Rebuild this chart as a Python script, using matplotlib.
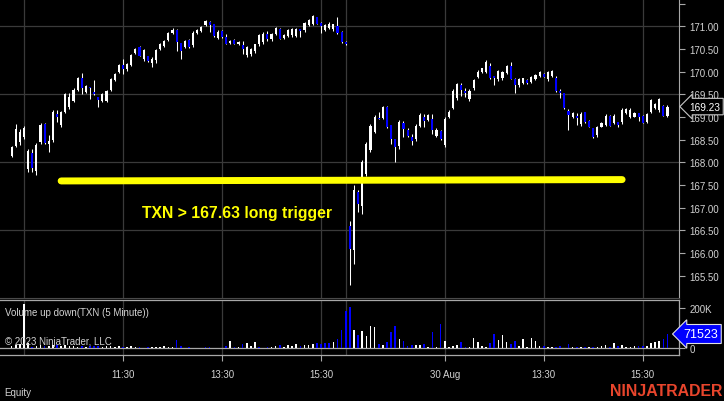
import matplotlib
matplotlib.use("Agg")
import matplotlib.pyplot as plt
import numpy as np
import pandas as pd
from matplotlib.transforms import blended_transform_factory

plt.rcParams['font.family'] = ['Liberation Sans', 'DejaVu Sans']

# ---------------- data (5 minute bars, TXN) ----------------
opens = [
    168.14, 168.36, 168.45, 168.55, 167.85, 168.20, 167.80, 168.45, 168.84, 168.40,
    168.50, 169.06, 168.82, 169.12, 169.22, 169.36, 169.60, 169.87, 169.55, 169.66,
    169.56, 169.44, 169.36, 169.35, 169.60, 169.82, 170.00, 170.15, 170.05, 170.15,
    170.41, 170.55, 170.28, 170.34, 170.20, 170.25, 170.50, 170.57, 170.70, 170.86,
    170.92, 170.63, 170.55, 170.70, 170.58, 170.85, 170.90, 171.03, 171.10, 171.05,
    170.75, 170.90, 170.77, 170.63, 170.70, 170.61, 170.59, 170.36, 170.40, 170.45,
    170.60, 170.65, 170.84, 170.71, 170.82, 170.94, 170.75, 170.79, 170.80, 170.79,
    170.94, 170.91, 171.02, 171.06, 171.20, 171.07, 170.92, 170.97, 170.93, 171.01,
    170.88, 170.66, 166.59, 166.07, 167.35, 167.04, 167.75, 168.28, 168.68, 168.98,
    168.98, 169.23, 168.82, 168.51, 168.35, 168.86, 168.71, 168.57, 168.52, 168.80,
    169.01, 168.94, 168.95, 168.58, 168.70, 168.38, 168.99, 169.20, 169.42, 169.70,
    169.58, 169.39, 169.63, 169.88, 169.99, 170.00, 170.13, 169.90, 169.83, 169.85,
    169.97, 170.13, 169.84, 169.70, 169.75, 169.82, 169.78, 169.84, 169.91, 169.95,
    169.83, 169.91, 169.87, 169.58, 169.52, 169.14, 168.99, 169.03, 168.84, 169.10,
    168.92, 168.75, 168.60, 168.79, 168.83, 169.03, 168.87, 168.89, 168.88, 169.08,
    169.00, 169.01, 169.08, 169.03, 168.89, 169.12, 169.20, 169.15, 169.25, 169.03,
]
highs = [
    168.36, 168.84, 168.73, 168.81, 168.29, 168.29, 168.42, 168.87, 168.86, 168.60,
    169.15, 169.15, 169.13, 169.54, 169.52, 169.63, 169.89, 169.97, 169.70, 169.67,
    169.81, 169.45, 169.53, 169.59, 169.87, 169.97, 170.17, 170.28, 170.20, 170.40,
    170.52, 170.56, 170.50, 170.35, 170.32, 170.51, 170.63, 170.70, 170.88, 170.97,
    170.95, 170.64, 170.70, 170.71, 170.89, 170.94, 171.00, 171.14, 171.12, 171.06,
    170.92, 170.92, 170.84, 170.70, 170.71, 170.68, 170.68, 170.57, 170.53, 170.62,
    170.83, 170.87, 170.90, 170.85, 170.98, 170.96, 170.83, 170.93, 170.96, 170.96,
    170.95, 171.09, 171.16, 171.25, 171.21, 171.10, 171.05, 171.09, 171.06, 171.20,
    170.89, 170.68, 166.70, 167.49, 167.39, 168.05, 168.44, 168.84, 169.04, 169.12,
    169.25, 169.25, 168.83, 168.52, 168.93, 168.92, 168.75, 168.62, 168.84, 169.09,
    169.06, 169.06, 169.06, 168.75, 168.71, 168.99, 169.15, 169.61, 169.76, 169.76,
    169.63, 169.61, 169.84, 170.03, 170.09, 170.25, 170.20, 169.91, 170.04, 170.02,
    170.14, 170.22, 169.85, 169.85, 169.87, 169.83, 169.91, 169.95, 170.02, 169.96,
    170.02, 170.03, 169.90, 169.61, 169.53, 169.17, 169.10, 169.08, 169.10, 169.11,
    168.93, 168.76, 168.81, 168.88, 169.06, 169.04, 169.06, 168.90, 169.19, 169.19,
    169.19, 169.10, 169.09, 169.04, 169.09, 169.40, 169.31, 169.43, 169.26, 169.27,
]
lows = [
    168.12, 168.33, 168.39, 168.51, 167.79, 167.78, 167.72, 168.40, 168.40, 168.23,
    168.45, 168.90, 168.78, 169.09, 169.17, 169.32, 169.58, 169.50, 169.52, 169.39,
    169.49, 169.23, 169.34, 169.32, 169.58, 169.80, 169.97, 169.95, 170.02, 170.13,
    170.39, 170.34, 170.24, 170.22, 170.11, 170.20, 170.48, 170.55, 170.68, 170.84,
    170.46, 170.28, 170.53, 170.53, 170.55, 170.83, 170.88, 171.01, 170.87, 170.77,
    170.72, 170.75, 170.61, 170.61, 170.61, 170.59, 170.39, 170.33, 170.35, 170.42,
    170.57, 170.61, 170.68, 170.68, 170.80, 170.72, 170.73, 170.77, 170.77, 170.77,
    170.77, 170.88, 171.00, 171.03, 171.04, 170.86, 170.90, 170.94, 170.90, 170.84,
    170.64, 170.59, 165.29, 165.76, 166.90, 166.86, 167.70, 168.23, 168.64, 168.95,
    168.95, 168.76, 168.40, 168.00, 168.29, 168.56, 168.55, 168.39, 168.48, 168.77,
    168.77, 168.92, 168.62, 168.55, 168.50, 168.33, 168.97, 169.17, 169.38, 169.47,
    169.45, 169.36, 169.60, 169.85, 169.97, 169.97, 169.84, 169.71, 169.80, 169.81,
    169.95, 169.83, 169.53, 169.67, 169.73, 169.72, 169.76, 169.82, 169.89, 169.88,
    169.80, 169.89, 169.55, 169.42, 169.18, 168.72, 168.97, 168.82, 168.81, 168.87,
    168.78, 168.53, 168.57, 168.77, 168.81, 168.80, 168.84, 168.77, 168.84, 169.06,
    168.98, 168.99, 168.92, 168.86, 168.86, 169.08, 169.17, 169.12, 169.02, 168.99,
]
closes = [
    168.34, 168.73, 168.66, 168.76, 168.25, 167.87, 168.38, 168.82, 168.42, 168.46,
    169.10, 168.99, 169.10, 169.50, 169.45, 169.60, 169.86, 169.63, 169.68, 169.63,
    169.51, 169.37, 169.50, 169.57, 169.84, 169.95, 170.14, 170.06, 170.17, 170.37,
    170.50, 170.35, 170.47, 170.23, 170.28, 170.48, 170.61, 170.68, 170.85, 170.92,
    170.66, 170.46, 170.68, 170.54, 170.86, 170.92, 170.98, 171.12, 171.03, 170.78,
    170.88, 170.77, 170.62, 170.68, 170.62, 170.66, 170.50, 170.54, 170.50, 170.60,
    170.80, 170.84, 170.73, 170.83, 170.96, 170.73, 170.81, 170.91, 170.93, 170.94,
    170.90, 171.07, 171.13, 171.22, 171.05, 171.00, 171.03, 171.06, 171.04, 170.85,
    170.65, 170.61, 166.10, 167.40, 167.08, 168.00, 168.40, 168.80, 169.00, 168.96,
    169.22, 168.77, 168.51, 168.33, 168.90, 168.73, 168.59, 168.48, 168.80, 169.05,
    168.92, 169.04, 168.72, 168.72, 168.51, 168.96, 169.12, 169.58, 169.72, 169.59,
    169.53, 169.58, 169.81, 170.00, 170.07, 170.22, 169.87, 169.86, 170.01, 169.99,
    170.12, 169.84, 169.70, 169.83, 169.85, 169.76, 169.89, 169.93, 170.00, 169.89,
    170.00, 170.01, 169.58, 169.53, 169.19, 169.04, 169.08, 168.97, 169.07, 168.88,
    168.79, 168.57, 168.78, 168.86, 169.03, 168.81, 169.03, 168.82, 169.16, 169.17,
    169.16, 169.08, 169.01, 168.87, 169.06, 169.38, 169.29, 169.40, 169.03, 169.23,
]
volume_k = [
    12, 18, 20, 222, 25, 8, 12, 15, 10, 12,
    15, 18, 12, 15, 12, 10, 8, 10, 8, 10,
    12, 10, 8, 10, 12, 8, 10, 8, 6, 12,
    5, 8, 4, 5, 8, 8, 8, 10, 6, 8,
    40, 10, 4, 7, 4, 4, 4, 5, 7, 3,
    3, 4, 10, 37, 7, 7, 20, 27, 12, 32,
    5, 4, 5, 7, 10, 17, 7, 15, 12, 20,
    10, 15, 15, 20, 25, 20, 27, 27, 30, 45,
    90, 185, 205, 93, 65, 88, 63, 113, 105, 22,
    17, 33, 83, 113, 47, 38, 10, 17, 17, 17,
    22, 5, 83, 5, 122, 38, 5, 13, 17, 30,
    5, 5, 50, 33, 10, 5, 27, 72, 43, 67,
    33, 22, 38, 10, 47, 5, 50, 38, 13, 10,
    5, 5, 5, 10, 3, 20, 5, 8, 5, 8,
    5, 8, 8, 10, 17, 8, 27, 13, 17, 8,
    8, 10, 10, 13, 13, 27, 30, 38, 47, 71.523,
]
volume_up = [
    1, 1, 1, 1, 1, 0, 1, 1, 0, 1,
    1, 0, 1, 1, 1, 1, 1, 0, 1, 0,
    0, 0, 1, 1, 1, 1, 1, 0, 1, 1,
    1, 0, 1, 0, 1, 1, 1, 1, 1, 1,
    0, 0, 1, 0, 1, 1, 1, 0, 0, 1,
    1, 0, 0, 1, 0, 1, 0, 1, 1, 1,
    0, 1, 0, 1, 1, 0, 1, 1, 1, 1,
    0, 1, 1, 1, 0, 0, 0, 0, 1, 0,
    0, 0, 0, 1, 0, 1, 1, 1, 1, 0,
    1, 0, 0, 0, 1, 0, 0, 0, 1, 1,
    0, 1, 0, 1, 0, 1, 1, 1, 1, 0,
    0, 1, 1, 1, 1, 1, 0, 0, 1, 1,
    1, 0, 0, 1, 1, 1, 1, 1, 1, 0,
    1, 1, 0, 0, 1, 0, 1, 0, 1, 0,
    1, 0, 1, 1, 1, 0, 1, 0, 1, 1,
    1, 1, 0, 0, 1, 1, 1, 1, 0, 0,
]
sessions = ['2023-08-28', '2023-08-29', '2023-08-30']
tick_times = ['2023-08-29 11:30', '2023-08-29 13:30', '2023-08-29 15:30',
              '2023-08-30 11:30', '2023-08-30 13:30', '2023-08-30 15:30']
tick_labels = ['11:30', '13:30', '15:30', '30 Aug', '13:30', '15:30']
price_ticks = [165.5, 166.0, 166.5, 167.0, 167.5, 168.0, 168.5, 169.0, 169.5, 170.0, 170.5, 171.0, 171.5]
price_grid = [166.5, 168.0, 169.5, 171.0]
volume_ticks = [0, 100000, 200000]
volume_tick_labels = ['0', '100K', '200K']
trigger_text = 'TXN > 167.63 long trigger'
trigger_start = '2023-08-29 10:15'
trigger_end = '2023-08-30 15:05'
trigger_prices = [167.59, 167.62]
last_volume = 71523

# ---------------- build ----------------
times = []
for d in sessions:
    times += list(pd.date_range(d + ' 09:35', d + ' 16:00', freq='5min'))
times = times[78 - 4:]
times = pd.DatetimeIndex(times)
n = len(times)
pos = np.arange(n)
o = np.array(opens); h = np.array(highs); l = np.array(lows); c = np.array(closes)
vol = np.array(volume_k) * 1000.0

def pos_of(t):
    return int(np.where(times == pd.Timestamp(t))[0][0])

W, H = 724, 402
BG = '#000000'
TXT = '#D2D2D2'
GRID = '#3A3A3A'
AX = '#A8A8A8'
BLUE = '#0000FF'

fig = plt.figure(figsize=(W / 100, H / 100), dpi=100, facecolor=BG)
ax = fig.add_axes([0, 1 - 299 / H, 679 / W, 299 / H], facecolor=BG)
axv = fig.add_axes([0, 1 - 356 / H, 679 / W, 55 / H], facecolor=BG)

xl = (-2.82, 161.79)
for a in (ax, axv):
    a.set_xlim(*xl)
    for s in a.spines.values():
        s.set_visible(False)

ax.set_ylim(165.009, 171.602)
axv.set_ylim(-33500, 241500)

# grid
breaks = [i for i in range(n - 1) if times[i].strftime('%H:%M') == '16:00']
tick_pos = [pos_of(t) for t in tick_times]
for xg in breaks + tick_pos:
    ax.axvline(xg, color=GRID, lw=0.9, zorder=0)
    axv.axvline(xg, color=GRID, lw=0.9, zorder=0)
for yg in price_grid:
    ax.axhline(yg, color=GRID, lw=0.9, zorder=0)

# candles
up = c >= o
body_col = np.where(up, '#FFFFFF', BLUE)
ax.vlines(pos, l, h, colors='#FFFFFF', lw=0.75, zorder=2)
body_h = np.maximum(np.abs(c - o), 0.012)
ax.bar(pos, body_h, bottom=np.minimum(o, c), width=0.5, color=body_col, linewidth=0, zorder=3)

# trigger line & text
xs = [pos_of(trigger_start), pos_of(trigger_end)]
ax.plot(xs, trigger_prices, color='#FFFF00', lw=5, solid_capstyle='round', zorder=4)
ax.text(pos_of('2023-08-29 11:50') + 0.5, 166.905, trigger_text, color='#FFFF00',
        fontsize=11.3, fontweight='bold', ha='left', va='center', zorder=5)

# price axis
ax.spines['right'].set_visible(True)
ax.spines['right'].set_color(AX)
ax.spines['bottom'].set_visible(True)
ax.spines['bottom'].set_color('#4A4A4A')
ax.yaxis.tick_right()
ax.set_yticks(price_ticks)
ax.set_yticklabels(['%.2f' % v if v < 171.4 else '' for v in price_ticks])
ax.tick_params(axis='y', colors=AX, labelcolor=TXT, length=4.5, width=0.8, pad=3, labelsize=7)
ax.set_xticks([])

# price marker
tr = blended_transform_factory(ax.transAxes, ax.transData)
ax.text(1 + 10 / 679, c[-1], '%.2f' % c[-1], transform=tr, ha='left', va='center',
        color='#FFFFFF', fontsize=7.3, zorder=10, clip_on=False,
        bbox=dict(boxstyle='larrow,pad=0.32', fc='black', ec='#C8C8C8', lw=0.8))

# volume
vcol = np.where(np.array(volume_up) == 1, '#FFFFFF', BLUE)
axv.bar(pos, vol, width=0.38, color=vcol, linewidth=0, zorder=3)
axv.axhline(0, color=AX, lw=0.9, zorder=2)
for s in ('top', 'bottom', 'right'):
    axv.spines[s].set_visible(True)
    axv.spines[s].set_color(AX)
    axv.spines[s].set_linewidth(0.9)
axv.yaxis.tick_right()
axv.set_yticks(volume_ticks)
axv.set_yticklabels(volume_tick_labels)
axv.tick_params(axis='y', colors=AX, labelcolor=TXT, length=4.5, width=0.8, pad=3, labelsize=7)
axv.set_xticks(tick_pos)
axv.set_xticklabels(tick_labels)
axv.tick_params(axis='x', colors=AX, labelcolor=TXT, length=4, width=0.8, pad=6, labelsize=7)

trv = blended_transform_factory(axv.transAxes, axv.transData)
axv.text(1 + 4 / 679, last_volume, str(last_volume), transform=trv, ha='left', va='center',
         color='#FFFFFF', fontsize=9, zorder=10, clip_on=False,
         bbox=dict(boxstyle='larrow,pad=0.28', fc=BLUE, ec='#E0E0E0', lw=0.8))

# texts
fig.text(5 / W, 1 - 312.7 / H, 'Volume up down(TXN (5 Minute))', color=TXT, fontsize=7, ha='left', va='center')
fig.text(5 / W, 1 - 342.5 / H, '\u00a9 2023 NinjaTrader, LLC', color=TXT, fontsize=7, ha='left', va='center')
fig.text(4 / W, 1 - 393 / H, 'Equity', color=TXT, fontsize=7, ha='left', va='center')
fig.text(722 / W, 1 - 391.5 / H, 'NINJATRADER', color='#E8452C', fontsize=11.4, fontweight='bold',
         ha='right', va='center')

fig.savefig('out.png', dpi=100, facecolor=BG)
